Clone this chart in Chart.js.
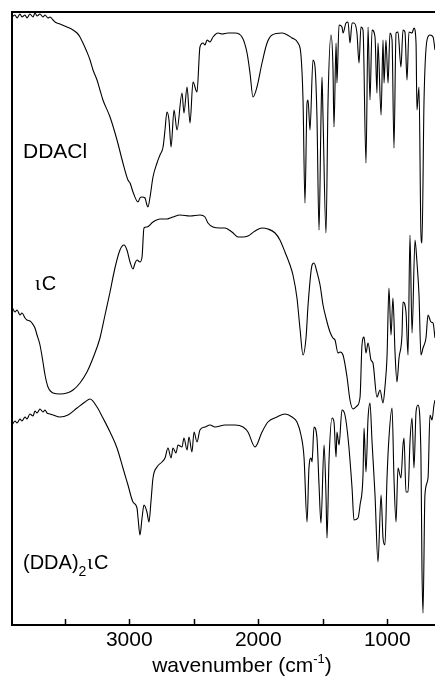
<!DOCTYPE html>
<html>
<head>
<meta charset="utf-8">
<script src="https://cdn.jsdelivr.net/npm/chart.js@4.4.1/dist/chart.umd.min.js"></script>
<style>
  html, body { margin: 0; padding: 0; background: #fff; }
  #wrap { position: relative; width: 435px; height: 678px; }
</style>
</head>
<body>
<div id="wrap"><canvas id="ir"></canvas></div>
<script>
// IR spectra, [wavenumber cm-1, transmittance a.u. (stacked, offset)]
const ddacl = [
  [3909,608],[3886,610],[3870,607],[3847,611],[3832,608],[3808,610],[3793,607],[3770,611],[3746,608],
  [3731,612],[3715,609],[3692,611],[3669,608],[3653,610],[3630,607],[3614,608],[3591,605],[3576,603],
  [3537,601],[3483,598],[3436,595],[3405,592],[3382,588],[3359,582],[3328,573],[3304,565],[3281,555],
  [3250,545],[3227,535],[3204,525],[3149,508],[3095,485],[3049,462],[3010,445],[2994,442],[2971,433],
  [2932,423],[2917,427],[2901,428],[2878,427],[2863,420],[2855,418],[2839,428],[2816,448],[2785,462],
  [2762,470],[2738,478],[2723,495],[2708,513],[2692,505],[2676,478],[2653,515],[2630,495],[2591,532],
  [2576,512],[2552,538],[2529,502],[2506,543],[2475,533],[2452,578],[2428,582],[2413,580],[2397,585],
  [2374,583],[2351,588],[2312,592],[2281,591],[2235,592],[2180,592],[2126,588],[2087,572],[2064,552],
  [2041,528],[2010,538],[1971,562],[1932,582],[1893,590],[1816,592],[1738,587],[1692,582],[1669,570],
  [1653,525],[1638,422],[1622,522],[1614,525],[1599,495],[1576,565],[1560,558],[1545,508],[1529,395],
  [1514,505],[1506,548],[1498,508],[1475,392],[1459,525],[1436,590],[1421,558],[1413,498],[1397,582],
  [1390,542],[1374,600],[1351,598],[1343,592],[1320,602],[1304,603],[1289,582],[1273,602],[1258,602],
  [1235,592],[1219,562],[1204,598],[1188,595],[1165,462],[1149,598],[1134,525],[1118,595],[1095,588],
  [1080,532],[1072,582],[1048,510],[1033,585],[1025,542],[1010,585],[994,542],[979,592],[963,585],
  [948,477],[932,592],[917,593],[894,558],[878,595],[863,593],[847,545],[832,593],[808,592],[793,597],
  [777,582],[770,515],[754,538],[739,392],[731,382],[715,525],[692,585],[669,590],[645,588],[630,575]
];

const iotaC = [
  [3909,318],[3886,313],[3870,315],[3847,310],[3832,312],[3808,307],[3793,305],[3770,304],[3754,302],
  [3731,297],[3715,290],[3692,280],[3669,263],[3653,250],[3630,238],[3591,232],[3537,231],[3483,232],
  [3436,235],[3382,242],[3328,253],[3281,267],[3227,287],[3188,310],[3149,333],[3111,357],[3072,375],
  [3041,380],[3018,375],[2994,363],[2971,356],[2955,362],[2940,365],[2917,363],[2901,368],[2886,397],
  [2863,398],[2816,403],[2762,406],[2708,406],[2661,408],[2607,410],[2529,409],[2452,410],[2413,408],
  [2390,402],[2351,398],[2297,397],[2258,397],[2204,393],[2157,388],[2118,388],[2080,389],[2025,394],
  [1971,397],[1925,396],[1870,392],[1832,385],[1793,373],[1754,360],[1731,350],[1700,327],[1677,297],
  [1653,270],[1630,287],[1614,320],[1583,360],[1568,362],[1545,353],[1521,340],[1498,320],[1475,307],
  [1444,293],[1421,287],[1405,285],[1382,272],[1366,273],[1343,270],[1312,248],[1289,225],[1266,216],
  [1235,219],[1211,228],[1196,280],[1180,288],[1165,272],[1149,282],[1126,265],[1111,262],[1080,228],
  [1056,235],[1033,222],[1018,238],[1002,268],[987,337],[971,290],[956,327],[940,273],[925,243],
  [909,267],[886,290],[878,323],[855,313],[839,270],[824,390],[808,292],[785,385],[770,363],[754,330],
  [739,270],[723,277],[700,287],[684,310],[661,303],[645,302],[630,287]
];

const ddaIotaC = [
  [3909,200],[3886,204],[3870,202],[3847,206],[3832,204],[3808,208],[3793,206],[3770,211],[3746,209],
  [3731,214],[3715,212],[3692,216],[3669,213],[3653,215],[3638,212],[3614,211],[3591,210],[3537,208],
  [3475,210],[3405,217],[3343,223],[3304,226],[3250,218],[3204,207],[3149,193],[3095,177],[3049,157],
  [3010,140],[2971,123],[2940,117],[2932,107],[2917,90],[2901,107],[2886,120],[2863,113],[2847,103],
  [2832,123],[2816,147],[2785,158],[2746,163],[2723,167],[2700,177],[2676,167],[2661,177],[2638,172],
  [2622,180],[2591,178],[2576,187],[2552,175],[2537,188],[2514,173],[2498,193],[2475,183],[2452,195],
  [2413,198],[2374,200],[2335,198],[2258,200],[2180,200],[2118,198],[2080,193],[2025,178],[1971,193],
  [1925,203],[1855,208],[1793,211],[1738,208],[1700,203],[1669,190],[1645,167],[1622,103],[1607,157],
  [1591,167],[1583,163],[1568,198],[1545,187],[1529,140],[1514,102],[1490,180],[1475,130],[1467,87],
  [1452,163],[1428,207],[1413,203],[1397,168],[1390,193],[1374,180],[1351,215],[1328,210],[1304,187],
  [1273,137],[1258,105],[1227,107],[1211,120],[1188,150],[1180,197],[1165,153],[1149,207],[1134,222],
  [1118,183],[1095,130],[1072,63],[1048,130],[1033,87],[1018,80],[1002,147],[987,187],[963,217],
  [948,147],[932,103],[917,157],[894,147],[878,180],[870,187],[855,133],[839,133],[824,183],[808,207],
  [793,157],[777,213],[762,220],[739,170],[731,57],[723,12],[708,130],[684,147],[669,210],[653,205],
  [638,220],[630,225]
];

const tickValues = [3500, 3000, 2500, 2000, 1500, 1000];
const labelledTicks = [3000, 2000, 1000];
const wnMin = 630;
const wnMax = 3909;

const SANS = '"Liberation Sans", Arial, sans-serif';
const SERIF = '"Liberation Serif", "DejaVu Serif", serif';

function toPoints(arr) {
  return arr.map(p => ({ x: p[0], y: p[1] }));
}

// draws consecutive runs of text (for sub/superscripts and mixed fonts)
function drawRuns(ctx, x, y, runs) {
  let cx = x;
  runs.forEach(r => {
    ctx.font = r.font;
    ctx.fillText(r.text, cx, y + (r.dy || 0));
    cx += ctx.measureText(r.text).width + (r.gap || 0);
  });
}

const decorations = {
  id: 'decorations',
  afterDraw(chart) {
    const ctx = chart.ctx;
    const xs = chart.scales.x;
    ctx.save();
    // inward tick marks
    ctx.strokeStyle = '#000';
    ctx.lineWidth = 1.5;
    tickValues.forEach(v => {
      const px = Math.round(xs.getPixelForValue(v)) + 0.5;
      ctx.beginPath();
      ctx.moveTo(px, xs.top);
      ctx.lineTo(px, xs.top - 6);
      ctx.stroke();
    });

    ctx.fillStyle = '#000';
    ctx.textBaseline = 'alphabetic';
    ctx.textAlign = 'left';

    // spectrum labels
    drawRuns(ctx, 23, 158, [{ text: 'DDACl', font: '21px ' + SANS }]);
    drawRuns(ctx, 35, 290, [
      { text: '\u03B9', font: '21px ' + SERIF, gap: 1 },
      { text: 'C', font: '20px ' + SANS }
    ]);
    drawRuns(ctx, 23, 569, [
      { text: '(DDA)', font: '20px ' + SANS },
      { text: '2', font: '14px ' + SANS, dy: 7, gap: 1 },
      { text: '\u03B9', font: '21px ' + SERIF, gap: 1 },
      { text: 'C', font: '20px ' + SANS }
    ]);

    // axis title with superscript
    const runs = [
      { text: 'wavenumber (cm', font: '21px ' + SANS },
      { text: '-1', font: '13px ' + SANS, dy: -9 },
      { text: ')', font: '21px ' + SANS }
    ];
    let w = 0;
    runs.forEach(r => { ctx.font = r.font; w += ctx.measureText(r.text).width; });
    drawRuns(ctx, 242 - w / 2, 672, runs);
    ctx.restore();
  }
};

const lineStyle = {
  borderColor: '#000',
  borderWidth: 1.1,
  pointRadius: 0,
  cubicInterpolationMode: 'monotone',
  fill: false
};

new Chart(document.getElementById('ir'), {
  type: 'line',
  data: {
    datasets: [
      Object.assign({ label: 'DDACl', data: toPoints(ddacl) }, lineStyle),
      Object.assign({ label: 'iotaC', data: toPoints(iotaC) }, lineStyle),
      Object.assign({ label: '(DDA)2iotaC', data: toPoints(ddaIotaC) }, lineStyle)
    ]
  },
  options: {
    responsive: true,
    maintainAspectRatio: false,
    animation: false,
    layout: { padding: { left: 12, top: 12, right: 0, bottom: 0 } },
    plugins: {
      legend: { display: false },
      tooltip: { enabled: false }
    },
    scales: {
      x: {
        type: 'linear',
        position: 'bottom',
        reverse: true,
        min: wnMin,
        max: wnMax,
        afterFit: s => { s.height = 53; },
        afterBuildTicks: s => { s.ticks = tickValues.map(v => ({ value: v })); },
        ticks: {
          autoSkip: false,
          maxRotation: 0,
          padding: 3,
          color: '#000',
          font: { family: SANS, size: 21 },
          callback: v => labelledTicks.includes(v) ? String(v) : ''
        },
        grid: { drawOnChartArea: false, drawTicks: false },
        border: { display: true, color: '#000', width: 2 }
      },
      xTop: {
        type: 'linear',
        position: 'top',
        reverse: true,
        min: wnMin,
        max: wnMax,
        afterFit: s => { s.height = 0; },
        ticks: { display: false },
        grid: { display: false, drawTicks: false },
        border: { display: true, color: '#000', width: 2 }
      },
      y: {
        type: 'linear',
        position: 'left',
        min: 0,
        max: 613,
        afterFit: s => { s.width = 0; },
        ticks: { display: false },
        grid: { display: false, drawTicks: false },
        border: { display: true, color: '#000', width: 2 }
      }
    }
  },
  plugins: [decorations]
});
</script>
</body>
</html>
